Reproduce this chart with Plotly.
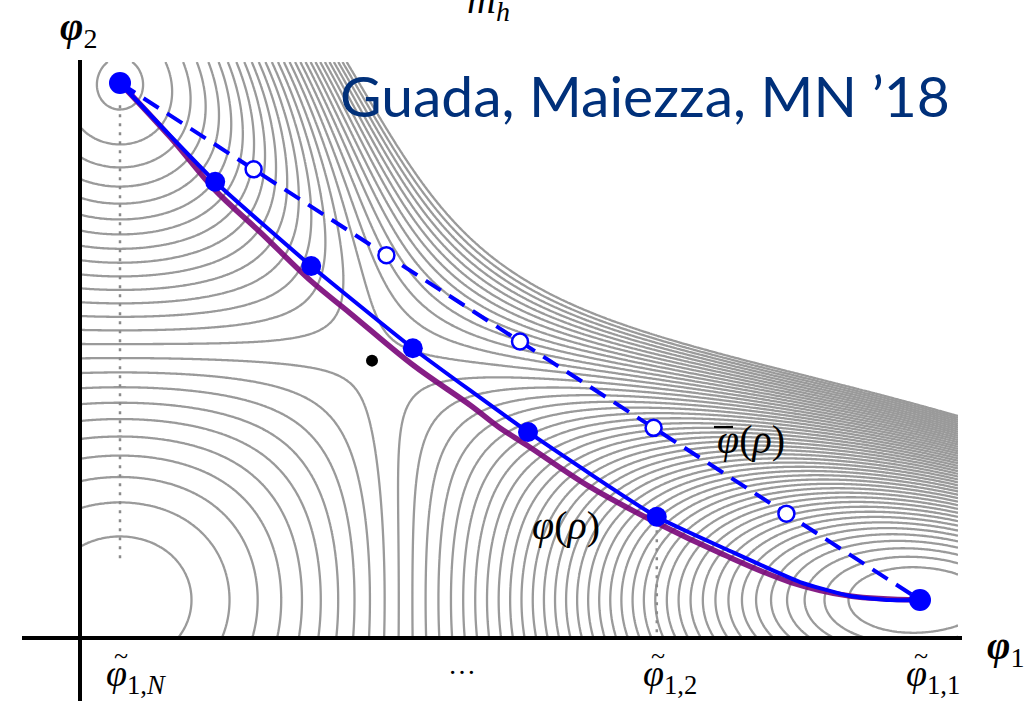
import numpy as np
import plotly.graph_objects as go

W, H = 1031, 701

# ---- potential V(phi1, phi2) = a(-2p1^2+p1^4) + b(-2p2^2+p2^4) + k p1^2 p2^2
a_coef = 1.885
b_coef = 1.0
k_coef = 15.8
level_start = -1.830
level_end = 0.091
level_step = 0.04

# window of the contour field (data units)
field_phi1 = [-0.05, 1.0475]
field_phi2 = [-0.0735, 1.0406]

# discretised path nodes (filled dots)
node_phi1 = [0.0, 0.119, 0.239, 0.366, 0.510, 0.671, 1.0]
node_phi2 = [1.0, 0.809, 0.646, 0.487, 0.325, 0.161, 0.0]

# blue path (through nodes, bending into the true vacuum)
path_phi1 = [0.0, 0.119, 0.239, 0.366, 0.510, 0.671, 0.7625, 0.85, 0.9125, 0.9625, 1.0]
path_phi2 = [1.0, 0.809, 0.646, 0.487, 0.325, 0.161, 0.0948, 0.0348, 0.0077, 0.0, 0.0]

# straight ansatz phi-bar(rho): end points and open dots
bar_end_phi1 = [0.0, 1.0]
bar_end_phi2 = [1.0, 0.0]
bar_phi1 = [0.167, 0.333, 0.5, 0.667, 0.833]
bar_phi2 = [0.833, 0.667, 0.5, 0.333, 0.167]

# exact bounce path phi(rho)
bounce_phi1 = [0.0, 0.0625, 0.11875, 0.175, 0.23875, 0.2875, 0.36625, 0.4375,
               0.475, 0.51, 0.5875, 0.67125, 0.75, 0.8375, 0.9125, 1.0]
bounce_phi2 = [1.0, 0.8956, 0.7930, 0.7118, 0.6170, 0.5551, 0.4545, 0.3772,
               0.3327, 0.2979, 0.2186, 0.1489, 0.0909, 0.0348, 0.0077, 0.0]

# saddle point
saddle_phi1 = [0.315]
saddle_phi2 = [0.463]

# dotted guide lines
guide1_phi1 = [0.0, 0.0]
guide1_phi2 = [0.957, 0.077]
guide2_phi1 = [0.671, 0.671]
guide2_phi2 = [0.135, -0.0735]

# tick labels
tick_pos = [0.0, 0.4275, 0.671, 1.0]
tick_text = ["<i>φ</i><sub>1,<i>N</i></sub>", "…",
             "<i>φ</i><sub>1,2</sub>", "<i>φ</i><sub>1,1</sub>"]

xr = [-0.15, 1.13875]
yr = [-0.19536, 1.16054]

p1 = np.linspace(field_phi1[0], field_phi1[1], 360)
p2 = np.linspace(field_phi2[0], field_phi2[1], 360)
P1, P2 = np.meshgrid(p1, p2)
V = (a_coef * (-2 * P1**2 + P1**4) + b_coef * (-2 * P2**2 + P2**4)
     + k_coef * P1**2 * P2**2)

BLUE = "#0000ff"
PURPLE = "#7a067a"
GRAY = "#9a9a9a"

fig = go.Figure()
fig.add_trace(go.Contour(
    x=p1, y=p2, z=V,
    contours=dict(start=level_start, end=level_end, size=level_step, coloring="lines"),
    line=dict(width=2.3, smoothing=1.0),
    colorscale=[[0, GRAY], [1, GRAY]], showscale=False, hoverinfo="skip",
))
for gx, gy in [(guide1_phi1, guide1_phi2), (guide2_phi1, guide2_phi2)]:
    fig.add_trace(go.Scatter(x=gx, y=gy, mode="lines",
                             line=dict(color="#8a8a8a", width=2.5, dash="3px,6px"),
                             hoverinfo="skip"))
fig.add_trace(go.Scatter(x=bounce_phi1, y=bounce_phi2, mode="lines",
                         line=dict(color=PURPLE, width=5.5, shape="spline"),
                         opacity=0.9, hoverinfo="skip"))
fig.add_trace(go.Scatter(x=path_phi1, y=path_phi2, mode="lines",
                         line=dict(color=BLUE, width=4, shape="spline", smoothing=0.5),
                         hoverinfo="skip"))
fig.add_trace(go.Scatter(x=bar_end_phi1, y=bar_end_phi2, mode="lines",
                         line=dict(color=BLUE, width=4, dash="18px,10px"), hoverinfo="skip"))
fig.add_trace(go.Scatter(x=bar_phi1, y=bar_phi2, mode="markers",
                         marker=dict(color="white", size=16, line=dict(color=BLUE, width=2.5)),
                         hoverinfo="skip"))
fig.add_trace(go.Scatter(x=node_phi1[1:-1], y=node_phi2[1:-1], mode="markers",
                         marker=dict(color=BLUE, size=20), hoverinfo="skip"))
fig.add_trace(go.Scatter(x=[node_phi1[0], node_phi1[-1]], y=[node_phi2[0], node_phi2[-1]],
                         mode="markers", marker=dict(color=BLUE, size=22), hoverinfo="skip"))
fig.add_trace(go.Scatter(x=saddle_phi1, y=saddle_phi2, mode="markers",
                         marker=dict(color="black", size=12), hoverinfo="skip"))

# axes
fig.add_shape(type="line", x0=-0.1225, x1=1.0525, y0=-0.0735, y1=-0.0735,
              line=dict(color="black", width=4))
fig.add_shape(type="line", x0=-0.05, x1=-0.05, y0=-0.2, y1=1.0445,
              line=dict(color="black", width=4))


def px(x):
    return x / W


def py(y):
    return 1 - y / H


# overline of phi-bar
fig.add_shape(type="line", xref="paper", yref="paper", x0=px(714), x1=px(733),
              y0=py(427), y1=py(427), line=dict(color="black", width=2.2))

SERIF = "Liberation Serif"
ann = []
ann.append(dict(x=px(78), y=py(29), text="<i><b>φ</b></i><sub>2</sub>",
                font=dict(family=SERIF, size=40, color="black")))
ann.append(dict(x=px(1005), y=py(648), text="<i><b>φ</b></i><sub>1</sub>",
                font=dict(family=SERIF, size=40, color="black")))
ann.append(dict(x=px(488), y=py(2), text="<i>m</i><sub><i>h</i></sub>",
                font=dict(family=SERIF, size=40, color="black")))
ann.append(dict(x=px(645), y=py(95), text="Guada, Maiezza, MN ’18",
                font=dict(family="Lato", size=57, color="#00307a")))
ann.append(dict(x=px(751), y=py(440), text="<i>φ</i>(<i>ρ</i>)",
                font=dict(family=SERIF, size=40, color="black")))
ann.append(dict(x=px(566), y=py(525), text="<i>φ</i>(<i>ρ</i>)",
                font=dict(family=SERIF, size=40, color="black")))
for tp, tt in zip(tick_pos, tick_text):
    if tt == "…":
        ann.append(dict(x=tp, xref="x", y=py(664), text="…",
                        font=dict(family=SERIF, size=28, color="black")))
    else:
        ann.append(dict(x=tp, xref="x", xshift=-16, xanchor="left", y=py(676),
                        text=tt, font=dict(family=SERIF, size=38, color="black")))
        # tilde accent
        ann.append(dict(x=tp, xref="x", xshift=1, y=py(655), text="~",
                        font=dict(family=SERIF, size=26, color="black")))
for a in ann:
    a.setdefault("xref", "paper")
    a.setdefault("yref", "paper")
    a.setdefault("xanchor", "center")
    a.setdefault("yanchor", "middle")
    a.setdefault("showarrow", False)
fig.update_layout(annotations=ann)

fig.update_layout(
    width=W, height=H, margin=dict(l=0, r=0, t=0, b=0),
    paper_bgcolor="white", plot_bgcolor="white", showlegend=False,
    xaxis=dict(range=xr, visible=False, fixedrange=True),
    yaxis=dict(range=yr, visible=False, fixedrange=True),
)
fig.write_html("out.html", config={"displayModeBar": False},
               post_script="document.body.style.margin='0px';")
